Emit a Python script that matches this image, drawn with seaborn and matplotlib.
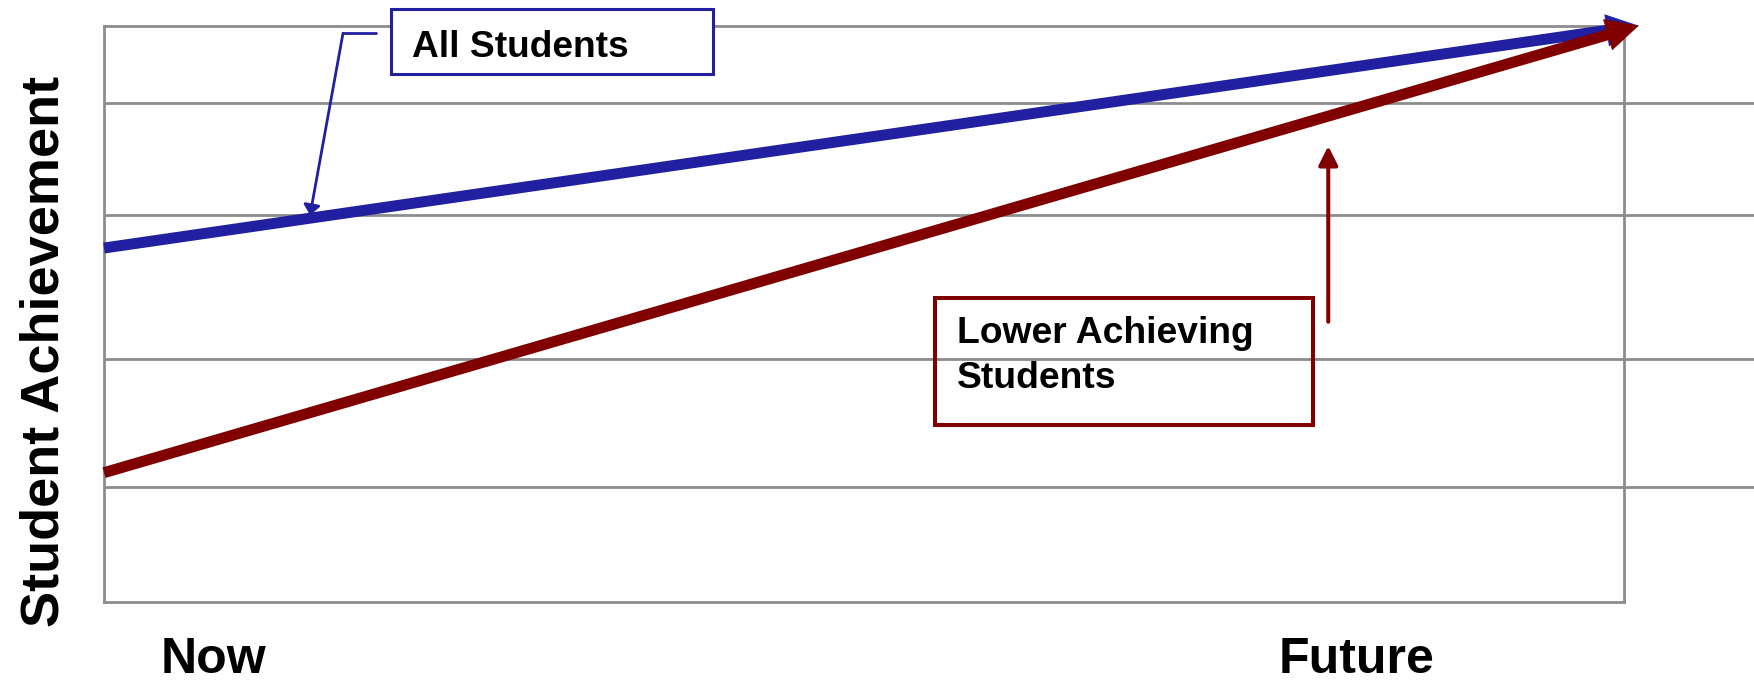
import numpy as np
import pandas as pd
import matplotlib
matplotlib.use("Agg")
import matplotlib.pyplot as plt
from matplotlib.patches import Rectangle
import seaborn as sns

# ---------------- data ----------------
stages = ["Now", "Future"]
stage_pos = [0.0717, 0.8243]
line_x = [0.0, 1.010]              # start of trend and arrow tip
all_students = [61.4, 100.0]
lower_achieving = [22.4, 100.0]
grid_levels = [20.0, 42.2, 67.2, 86.6]
label_all = "All Students"
label_low = ["Lower Achieving", "Students"]
y_label = "Student Achievement"

BLUE = "#2020A0"
RED = "#800000"
GRAY = "#8C8C8C"

sns.set_theme(style="white")
plt.rcParams["font.family"] = ["Liberation Sans", "DejaVu Sans"]
plt.rcParams["font.weight"] = "bold"

W, H = 1754, 684
fig = plt.figure(figsize=(W / 100, H / 100), dpi=100)
ax = fig.add_axes([104 / W, (H - 601.7) / H, 1519.5 / W, 576 / H])
ax.set_xlim(0, 1)
ax.set_ylim(0, 100)

for s in ax.spines.values():
    s.set_color(GRAY)
    s.set_linewidth(2.0)

for g in grid_levels:
    ax.axhline(g, xmin=0, xmax=1.09, color=GRAY, lw=2.0, clip_on=False, zorder=1)


def shaft(xs, ys, trim=0.011):
    xe = xs[1] - trim
    ye = float(np.interp(xe, xs, ys))
    return [xs[0], xe], [ys[0], ye]


z = 3
for vals, col in [(all_students, BLUE), (lower_achieving, RED)]:
    sx, sy = shaft(line_x, vals)
    sns.lineplot(x=sx, y=sy, color=col, linewidth=7.9, ax=ax, clip_on=False,
                 solid_capstyle="butt", zorder=z)
    ax.annotate("", xy=(line_x[1], vals[1]), xytext=(line_x[0], vals[0]),
                arrowprops=dict(arrowstyle="-|>,head_length=22.5,head_width=11.3",
                                mutation_scale=1, color=col, lw=0.5,
                                shrinkA=0, shrinkB=0),
                annotation_clip=False, zorder=z + 1)
    z += 2

# "All Students" callout
ax.add_patch(Rectangle((0.189, 91.6), 0.2117, 11.28, facecolor="white",
                       edgecolor=BLUE, lw=2.2, clip_on=False, zorder=8))
ax.text(0.2027, 94.5, label_all, fontsize=26.7, fontweight="bold", color="black",
        ha="left", va="baseline", zorder=9, clip_on=False)
ax.plot([0.179, 0.1573], [98.7, 98.7], color=BLUE, lw=2.0, clip_on=False, zorder=8)
ax.annotate("", xy=(0.1356, 67.1), xytext=(0.1573, 98.7),
            arrowprops=dict(arrowstyle="-|>,head_length=6,head_width=5",
                            mutation_scale=1, color=BLUE, lw=2.0,
                            shrinkA=0, shrinkB=0),
            annotation_clip=False, zorder=8)

# "Lower Achieving Students" callout
ax.add_patch(Rectangle((0.547, 30.6), 0.2486, 22.17, facecolor="none",
                       edgecolor=RED, lw=2.9, clip_on=False, zorder=8))
for txt, yb in zip(label_low, [44.9, 37.1]):
    ax.text(0.5614, yb, txt, fontsize=26.8, fontweight="bold", color="black",
            ha="left", va="baseline", zorder=9)
ax.annotate("", xy=(0.8057, 79.1), xytext=(0.8057, 48.6),
            arrowprops=dict(arrowstyle="-|>,head_length=11.5,head_width=5.8",
                            mutation_scale=1, color=RED, lw=2.9,
                            shrinkA=0, shrinkB=0),
            annotation_clip=False, zorder=8)

ax.set_xticks(stage_pos)
ax.set_xticklabels(stages, fontsize=36, fontweight="bold", color="black")
ax.tick_params(axis="x", length=0, pad=25.5)
ax.set_yticks([])
ax.set_xlabel("")
ax.set_ylabel(y_label, fontsize=39, fontweight="bold", color="black")
ax.yaxis.set_label_coords(-0.023, 0.435)

fig.savefig("out.png", dpi=100)
